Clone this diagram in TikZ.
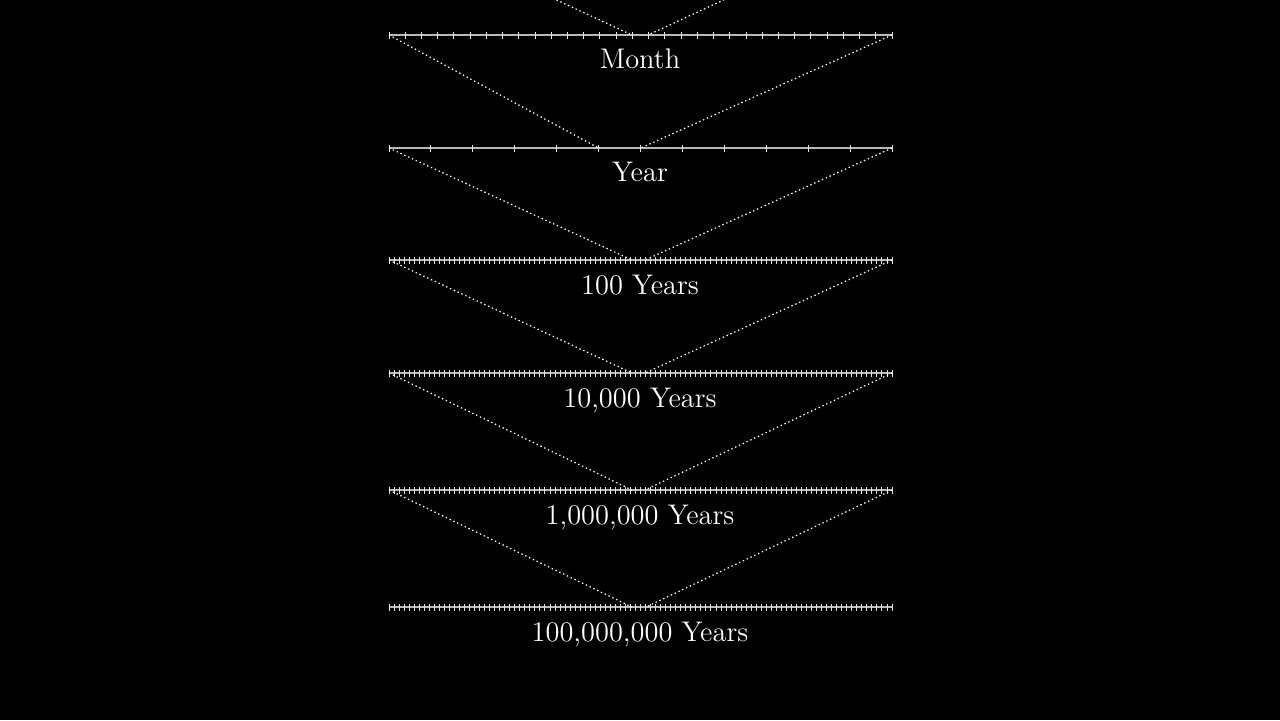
\documentclass[tikz,border=0pt]{standalone}
\definecolor{axisgrey}{RGB}{185,185,185}
\definecolor{tickgrey}{RGB}{225,225,225}
\begin{document}
\begin{tikzpicture}[x=0.5pt,y=-0.5pt,
  axis/.style={draw=axisgrey, line width=0.8pt},
  tickmark/.style={draw=tickgrey, line width=0.45pt},
  zoomline/.style={draw=white, line width=0.6pt, dash pattern=on 0.7pt off 1.4pt},
  lab/.style={text=white, font=\fontsize{14.2}{17}\selectfont, inner sep=0pt, anchor=base}]
\useasboundingbox (0,0) rectangle (1280,720);
\fill[black] (0,0) rectangle (1280,720);
\clip (0,0) rectangle (1280,720);
% axes with ticks
\foreach \n/\y/\k in {month/35/31, year/148/12, hundred/260/100, tenk/373/100, mill/490/100, hmill/607/100}{
  \coordinate (\n L) at (389,\y);
  \coordinate (\n R) at (892,\y);
  \draw[axis] (\n L) -- (\n R);
  \pgfmathsetmacro{\stp}{503/\k}
  \foreach \i in {0,...,\k}{
    \draw[tickmark] ({389+\stp*\i},{\y-3.5}) -- ++(0,7);
  }
}
% zoom target points
\coordinate (dayL) at (389,-78);
\coordinate (dayR) at (892,-78);
\coordinate (monthA) at (632,35);
\coordinate (monthB) at (648,35);
\coordinate (yearA) at (598.6,148);
\coordinate (yearB) at (640.8,148);
\coordinate (hundredA) at (632,260);
\coordinate (hundredB) at (645,260);
\coordinate (tenkA) at (632,373);
\coordinate (tenkB) at (645,373);
\coordinate (millA) at (632,490);
\coordinate (millB) at (645,490);
\coordinate (hmillA) at (632,607);
\coordinate (hmillB) at (646,607);
% zoom connectors
\draw[zoomline] (dayL) -- (monthA);
\draw[zoomline] (dayR) -- (monthB);
\draw[zoomline] (monthL) -- (yearA);
\draw[zoomline] (monthR) -- (yearB);
\draw[zoomline] (yearL) -- (hundredA);
\draw[zoomline] (yearR) -- (hundredB);
\draw[zoomline] (hundredL) -- (tenkA);
\draw[zoomline] (hundredR) -- (tenkB);
\draw[zoomline] (tenkL) -- (millA);
\draw[zoomline] (tenkR) -- (millB);
\draw[zoomline] (millL) -- (hmillA);
\draw[zoomline] (millR) -- (hmillB);
% labels
\node[lab] (lmonth) at (640,68) {Month};
\node[lab] (lyear) at (640,181) {Year};
\node[lab] (lhundred) at (640,294) {100 Years};
\node[lab] (ltenk) at (640,407) {10,000 Years};
\node[lab] (lmill) at (640,524) {1,000,000 Years};
\node[lab] (lhmill) at (640,641) {100,000,000 Years};
\end{tikzpicture}
\end{document}
